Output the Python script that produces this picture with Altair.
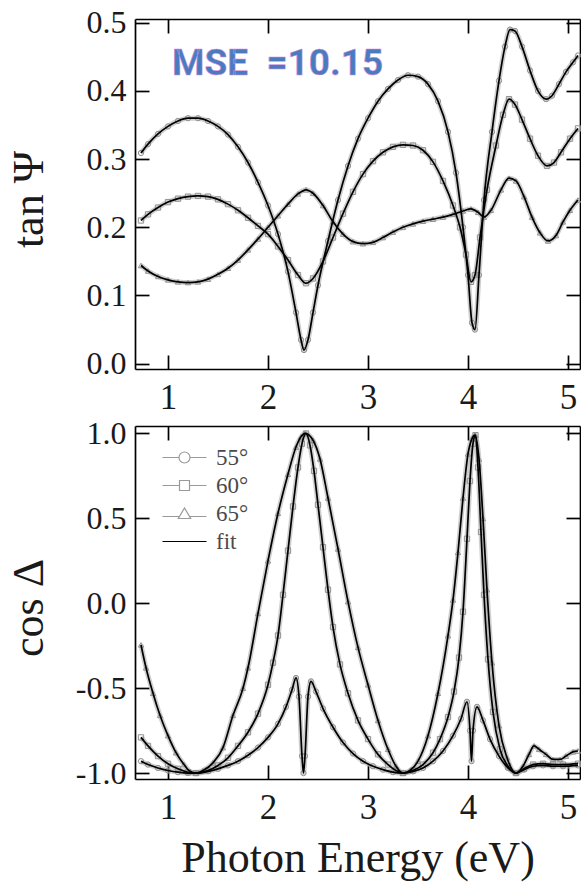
import altair as alt
import pandas as pd

angles = ["55°", "60°", "65°"]
legend_keys = ["55°", "60°", "65°", "fit"]

# ---- tan(Psi) ----
psi55_x = [0.73, 0.80, 0.90, 1.00, 1.10, 1.20, 1.30, 1.40, 1.50, 1.60, 1.70, 1.80, 1.90, 2.00, 2.10, 2.20, 2.28, 2.33, 2.36, 2.40, 2.45, 2.50, 2.60, 2.70, 2.80, 2.90, 3.00, 3.10, 3.20, 3.30, 3.40, 3.50, 3.60, 3.70, 3.80, 3.88, 3.95, 4.00, 4.04, 4.07, 4.11, 4.16, 4.24, 4.31, 4.37, 4.42, 4.47, 4.54, 4.62, 4.70, 4.78, 4.84, 4.91, 4.98, 5.05, 5.10]
psi55_y = [0.309, 0.322, 0.337, 0.348, 0.356, 0.360, 0.360, 0.356, 0.348, 0.336, 0.318, 0.295, 0.266, 0.232, 0.190, 0.135, 0.075, 0.035, 0.020, 0.035, 0.075, 0.115, 0.180, 0.240, 0.290, 0.330, 0.360, 0.385, 0.403, 0.416, 0.423, 0.421, 0.410, 0.385, 0.340, 0.280, 0.200, 0.130, 0.060, 0.050, 0.130, 0.240, 0.340, 0.415, 0.465, 0.490, 0.488, 0.465, 0.430, 0.400, 0.388, 0.393, 0.410, 0.428, 0.442, 0.452]

psi60_x = [0.73, 0.80, 0.90, 1.00, 1.10, 1.20, 1.30, 1.40, 1.50, 1.60, 1.70, 1.80, 1.90, 2.00, 2.10, 2.20, 2.30, 2.38, 2.45, 2.55, 2.65, 2.75, 2.85, 2.95, 3.05, 3.15, 3.25, 3.35, 3.45, 3.55, 3.65, 3.75, 3.85, 3.92, 3.98, 4.03, 4.07, 4.12, 4.19, 4.28, 4.35, 4.41, 4.47, 4.54, 4.62, 4.70, 4.79, 4.86, 4.93, 5.02, 5.10]
psi60_y = [0.210, 0.219, 0.229, 0.237, 0.242, 0.245, 0.246, 0.245, 0.241, 0.234, 0.225, 0.214, 0.202, 0.190, 0.172, 0.152, 0.130, 0.118, 0.125, 0.150, 0.185, 0.220, 0.252, 0.278, 0.297, 0.310, 0.318, 0.321, 0.320, 0.313, 0.296, 0.268, 0.232, 0.200, 0.160, 0.120, 0.130, 0.185, 0.255, 0.320, 0.365, 0.388, 0.380, 0.358, 0.330, 0.305, 0.290, 0.295, 0.310, 0.330, 0.345]

psi65_x = [0.73, 0.80, 0.90, 1.00, 1.10, 1.20, 1.30, 1.40, 1.50, 1.60, 1.70, 1.80, 1.90, 2.00, 2.10, 2.20, 2.30, 2.38, 2.45, 2.55, 2.65, 2.75, 2.85, 2.95, 3.05, 3.15, 3.25, 3.35, 3.45, 3.55, 3.65, 3.75, 3.85, 3.95, 4.03, 4.10, 4.16, 4.23, 4.33, 4.41, 4.48, 4.56, 4.64, 4.72, 4.80, 4.88, 4.95, 5.02, 5.10]
psi65_y = [0.144, 0.136, 0.128, 0.123, 0.120, 0.119, 0.120, 0.124, 0.131, 0.140, 0.152, 0.167, 0.183, 0.200, 0.217, 0.234, 0.249, 0.255, 0.250, 0.232, 0.208, 0.190, 0.179, 0.176, 0.178, 0.185, 0.193, 0.200, 0.205, 0.209, 0.212, 0.215, 0.219, 0.224, 0.227, 0.222, 0.215, 0.225, 0.255, 0.272, 0.268, 0.245, 0.215, 0.192, 0.180, 0.188, 0.208, 0.225, 0.240]

# ---- cos(Delta) ----
del55_x = [0.73, 0.80, 0.90, 1.00, 1.10, 1.20, 1.28, 1.40, 1.50, 1.60, 1.70, 1.80, 1.90, 2.00, 2.10, 2.18, 2.24, 2.28, 2.31, 2.34, 2.355, 2.37, 2.40, 2.43, 2.48, 2.55, 2.65, 2.75, 2.85, 2.95, 3.05, 3.15, 3.25, 3.35, 3.45, 3.55, 3.65, 3.75, 3.85, 3.93, 3.99, 4.02, 4.035, 4.05, 4.09, 4.15, 4.22, 4.31, 4.40, 4.48, 4.56, 4.65, 4.75, 4.85, 4.95, 5.10]
del55_y = [-0.93, -0.95, -0.97, -0.985, -0.995, -1.0, -1.0, -0.99, -0.975, -0.955, -0.93, -0.895, -0.85, -0.79, -0.71, -0.61, -0.51, -0.44, -0.55, -0.90, -1.0, -0.90, -0.55, -0.46, -0.52, -0.62, -0.73, -0.82, -0.885, -0.93, -0.96, -0.98, -0.995, -1.0, -0.99, -0.97, -0.93, -0.87, -0.78, -0.68, -0.58, -0.75, -0.93, -0.75, -0.61, -0.69, -0.80, -0.90, -0.97, -1.0, -0.98, -0.96, -0.955, -0.96, -0.96, -0.955]

del60_x = [0.73, 0.80, 0.90, 1.00, 1.10, 1.20, 1.28, 1.40, 1.50, 1.60, 1.70, 1.80, 1.90, 2.00, 2.05, 2.10, 2.15, 2.20, 2.25, 2.30, 2.34, 2.38, 2.42, 2.46, 2.50, 2.55, 2.60, 2.65, 2.72, 2.80, 2.90, 3.00, 3.10, 3.20, 3.28, 3.35, 3.45, 3.55, 3.65, 3.72, 3.80, 3.86, 3.91, 3.95, 3.99, 4.02, 4.05, 4.075, 4.10, 4.13, 4.16, 4.20, 4.25, 4.32, 4.40, 4.48, 4.56, 4.65, 4.75, 4.85, 4.95, 5.10]
del60_y = [-0.79, -0.84, -0.90, -0.945, -0.975, -0.995, -1.0, -0.985, -0.955, -0.91, -0.84, -0.76, -0.65, -0.48, -0.35, -0.19, 0.05, 0.31, 0.57, 0.80, 0.94, 1.0, 0.93, 0.78, 0.58, 0.33, 0.08, -0.14, -0.36, -0.53, -0.69, -0.80, -0.89, -0.95, -0.985, -1.0, -0.985, -0.95, -0.88, -0.80, -0.67, -0.52, -0.32, -0.05, 0.38, 0.72, 0.94, 0.99, 0.80, 0.42, 0.05, -0.33, -0.64, -0.86, -0.96, -1.0, -0.975, -0.95, -0.945, -0.95, -0.95, -0.945]

del65_x = [0.73, 0.78, 0.85, 0.92, 1.00, 1.08, 1.16, 1.22, 1.28, 1.35, 1.45, 1.55, 1.65, 1.75, 1.80, 1.90, 2.00, 2.10, 2.20, 2.28, 2.33, 2.37, 2.45, 2.52, 2.60, 2.70, 2.80, 2.90, 3.00, 3.10, 3.20, 3.28, 3.35, 3.42, 3.50, 3.60, 3.70, 3.80, 3.85, 3.90, 3.95, 4.00, 4.04, 4.07, 4.11, 4.15, 4.19, 4.24, 4.31, 4.39, 4.48, 4.55, 4.61, 4.66, 4.71, 4.78, 4.85, 4.92, 4.98, 5.05, 5.10]
del65_y = [-0.245, -0.38, -0.53, -0.66, -0.78, -0.88, -0.95, -0.99, -1.0, -0.985, -0.94, -0.85, -0.66, -0.50, -0.38, -0.06, 0.25, 0.53, 0.76, 0.92, 0.98, 1.0, 0.96, 0.85, 0.62, 0.32, 0.01, -0.26, -0.48, -0.69, -0.86, -0.96, -1.0, -0.985, -0.93, -0.78, -0.53, -0.19, 0.02, 0.30, 0.62, 0.88, 0.97, 0.99, 0.85, 0.50, 0.08, -0.35, -0.72, -0.91, -1.0, -0.96, -0.89, -0.84, -0.86, -0.89, -0.92, -0.92, -0.90, -0.875, -0.87]

mse_text = ["MSE\u00a0\u00a0=10.15"]
mse_x = [1.04]
mse_y = [0.423]

x_ticks = [1, 2, 3, 4, 5]
psi_ticks = [0.0, 0.1, 0.2, 0.3, 0.4, 0.5]
del_ticks = [-1.0, -0.5, 0.0, 0.5, 1.0]

x_domain = [0.67, 5.12]
psi_domain = [-0.0078, 0.5055]
del_domain = [-1.035, 1.044]

# layout (pixels inside the single plot area)
W = 445
HT = 760            # total plot-area height (both panels + gap)
TOP_RANGE = [350, 0]      # upper panel occupies rows 0..350
BOT_RANGE = [760, 407]    # lower panel occupies rows 407..760
SERIF = "Liberation Serif"
INK = "#1a1a1a"

legend_paths = [
    "M-2.2,0H-0.55M0.55,0H2.2M0.55,0A0.55,0.55,0,1,1,-0.55,0A0.55,0.55,0,1,1,0.55,0Z",
    "M-2.2,0H-0.5M0.5,0H2.2M-0.5,-0.5H0.5V0.5H-0.5Z",
    "M-2.2,0.3H-0.45M0.45,0.3H2.2M0,-0.55L0.62,0.5H-0.62Z",
    "M-2.2,0H2.2",
]


def long_df(xs_list, ys_list):
    rows = []
    for a, xs, ys in zip(angles, xs_list, ys_list):
        for xv, yv in zip(xs, ys):
            rows.append({"angle": a, "E": xv, "v": yv})
    return pd.DataFrame(rows)


LABEL_EXPR = "(datum.value < 0 ? '-' : '') + format(abs(datum.value), '.1f')"
XS = alt.Scale(domain=x_domain, nice=False, zero=False)

tk = dict(labels=False, title=None, domain=True, domainColor="black", domainWidth=1.7,
          grid=False, ticks=True, tickSize=14, tickWidth=1.7, tickColor="black")


def panel_layers(df, ydom, yrange, yticks, ytitle, xtitle, extra):
    ys = alt.Scale(domain=ydom, range=yrange, nice=False, zero=False)
    top_px = yrange[1]
    bot_px = yrange[0]
    ph = bot_px - top_px
    main_x = dict(orient="bottom", offset=bot_px - HT, values=x_ticks, ticks=False, tickSize=0,
                  domain=False, grid=False, labelFont=SERIF, labelFontSize=35, labelColor=INK,
                  labelPadding=11, format="d")
    if xtitle:
        main_x.update(title=xtitle, titleFont=SERIF, titleFontSize=44, titleFontWeight="normal",
                      titleColor=INK, titleY=92, titleBaseline="alphabetic")
    else:
        main_x.update(title=None)
    main_y = dict(orient="left", values=yticks, ticks=False, tickSize=0, domain=False,
                  grid=False, labelFont=SERIF, labelFontSize=32, labelColor=INK,
                  labelPadding=9, labelExpr=LABEL_EXPR, title=ytitle, titleFont=SERIF,
                  titleFontSize=44, titleFontWeight="normal", titleColor=INK,
                  titleX=-106, titleY=top_px + ph / 2 + 5, titleAngle=270, titleAlign="center",
                  titleBaseline="middle")

    halo = alt.Chart(df).mark_line(color="#a8a8a8", strokeWidth=5, opacity=0.55,
                                   interpolate="monotone").encode(
        x=alt.X("E:Q", scale=XS, axis=None),
        y=alt.Y("v:Q", scale=ys, axis=None),
        detail="angle:N",
    )
    pts = alt.Chart(df).mark_point(filled=False, size=28, strokeWidth=1, color="#909090", opacity=1).encode(
        x=alt.X("E:Q", scale=XS, axis=alt.Axis(orient="top", offset=-bot_px, values=x_ticks, **tk)),
        y=alt.Y("v:Q", scale=ys, axis=alt.Axis(orient="right", offset=-W, values=yticks, **tk)),
        shape=alt.Shape("angle:N", scale=alt.Scale(domain=angles, range=["circle", "square", "triangle-up"]), legend=None),
    )
    lines = alt.Chart(df).mark_line(color="black", strokeWidth=1.7, interpolate="monotone").encode(
        x=alt.X("E:Q", scale=XS, axis=alt.Axis(**main_x)),
        y=alt.Y("v:Q", scale=ys, axis=alt.Axis(**main_y)),
        detail="angle:N",
    )
    ticks2 = alt.Chart(df).transform_filter("false").mark_point(opacity=0).encode(
        x=alt.X("E:Q", scale=XS, axis=alt.Axis(orient="bottom", offset=top_px - HT, values=x_ticks, **tk)),
        y=alt.Y("v:Q", scale=ys, axis=alt.Axis(orient="left", offset=-W, values=yticks, **tk)),
    )
    return [halo, pts, lines, ticks2] + extra


psi_df = long_df([psi55_x, psi60_x, psi65_x], [psi55_y, psi60_y, psi65_y])
del_df = long_df([del55_x, del60_x, del65_x], [del55_y, del60_y, del65_y])

mse_df = pd.DataFrame({"t": mse_text, "E": mse_x, "v": mse_y})
mse = alt.Chart(mse_df).mark_text(align="left", baseline="alphabetic", font="Roboto", fontWeight="bold",
                                  fontSize=37, color="#4a7cbd", stroke="#d98ce8", strokeWidth=0.5).encode(
    x=alt.X("E:Q", scale=XS, axis=None),
    y=alt.Y("v:Q", scale=alt.Scale(domain=psi_domain, range=TOP_RANGE, nice=False, zero=False), axis=None),
    text="t:N",
)

leg_df = pd.DataFrame({"key": legend_keys})
leg_common = dict(orient="none", legendX=38, legendY=427, title=None, symbolSize=400,
                  symbolStrokeWidth=1.2, symbolFillColor="transparent", symbolOpacity=1,
                  labelFont=SERIF, labelFontSize=23, labelColor="#4a4a4a", labelOffset=20,
                  rowPadding=4, padding=0)
leg = alt.Chart(leg_df).transform_filter("false").mark_point(filled=False, opacity=1).encode(
    shape=alt.Shape("key:N", scale=alt.Scale(domain=legend_keys, range=legend_paths), legend=alt.Legend(**leg_common)),
    color=alt.Color("key:N", scale=alt.Scale(domain=legend_keys, range=["#9a9a9a", "#9a9a9a", "#9a9a9a", "#000000"]), legend=alt.Legend(**leg_common)),
)

layers = (panel_layers(psi_df, psi_domain, TOP_RANGE, psi_ticks, "tan Ψ", None, [mse])
          + panel_layers(del_df, del_domain, BOT_RANGE, del_ticks, "cos Δ", "Photon Energy (eV)", [leg]))

chart = alt.layer(*layers).resolve_scale(y="independent", shape="independent", color="independent").resolve_axis(
    x="independent", y="independent").properties(
    width=W, height=HT,
    padding={"left": 135, "top": 19, "right": 1, "bottom": 113},
    autosize=alt.AutoSizeParams(type="none"),
    background="white",
).configure_view(stroke=None)

chart.save("out.html", embed_options={"renderer": "svg", "actions": False})
